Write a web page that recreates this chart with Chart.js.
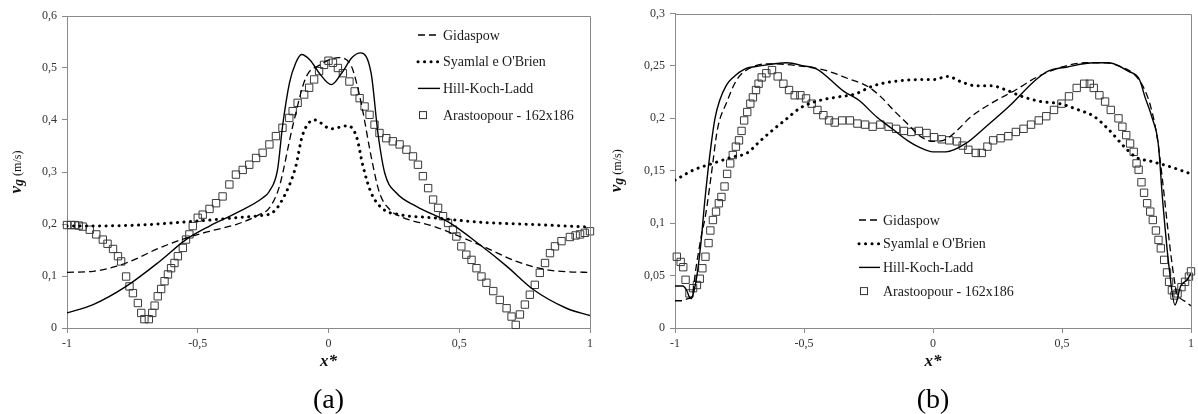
<!DOCTYPE html>
<html>
<head>
<meta charset="utf-8">
<title>vg profiles</title>
<script src="https://cdn.jsdelivr.net/npm/chart.js@4.4.1/dist/chart.umd.min.js"></script>
<style>
  html, body { margin: 0; padding: 0; background: #fff; }
  .wrap { position: relative; width: 1198px; height: 414px; }
  canvas { position: absolute; top: 0; }
  #chartA { left: 0; }
  #chartB { left: 600px; }
</style>
</head>
<body>
<div class="wrap">
  <canvas id="chartA" width="600" height="414"></canvas>
  <canvas id="chartB" width="598" height="414"></canvas>
</div>
<script>
const seriesNames = ['Gidaspow', "Syamlal e O'Brien", 'Hill-Koch-Ladd', 'Arastoopour - 162x186'];
const xTicks = [-1, -0.5, 0, 0.5, 1];
const yTicksA = [0, 0.1, 0.2, 0.3, 0.4, 0.5, 0.6];
const yTicksB = [0, 0.05, 0.1, 0.15, 0.2, 0.25, 0.3];

// ---- panel (a) ----
const gidaXA = [-1, -0.9, -0.774, -0.646, -0.545, -0.455, -0.354, -0.265, -0.226, -0.188, -0.137, -0.087, -0.036, 0.04, 0.088, 0.107, 0.13, 0.163, 0.195, 0.234, 0.272, 0.4, 0.502, 0.604, 0.719, 0.834, 0.92, 1];
const gidaYA = [0.107, 0.109, 0.125, 0.154, 0.173, 0.186, 0.199, 0.218, 0.231, 0.272, 0.388, 0.481, 0.505, 0.52, 0.503, 0.472, 0.42, 0.33, 0.26, 0.228, 0.215, 0.196, 0.176, 0.154, 0.128, 0.112, 0.108, 0.107];

const syamXA = [-1, -0.774, -0.519, -0.354, -0.265, -0.214, -0.163, -0.125, -0.1, -0.054, 0.01, 0.073, 0.107, 0.132, 0.163, 0.208, 0.272, 0.4, 0.591, 0.783, 1];
const syamYA = [0.196, 0.197, 0.205, 0.212, 0.216, 0.222, 0.26, 0.311, 0.37, 0.4, 0.383, 0.389, 0.368, 0.311, 0.26, 0.229, 0.218, 0.212, 0.203, 0.199, 0.194];

const hillXA = [-1, -0.9, -0.774, -0.646, -0.545, -0.455, -0.354, -0.252, -0.226, -0.195, -0.176, -0.149, -0.125, -0.103, -0.07, -0.035, 0.011, 0.05, 0.09, 0.123, 0.163, 0.189, 0.215, 0.259, 0.336, 0.464, 0.579, 0.681, 0.783, 0.91, 1];
const hillYA = [0.029, 0.045, 0.08, 0.128, 0.17, 0.196, 0.221, 0.25, 0.263, 0.304, 0.387, 0.472, 0.51, 0.526, 0.515, 0.49, 0.468, 0.49, 0.52, 0.529, 0.49, 0.375, 0.298, 0.26, 0.234, 0.202, 0.16, 0.119, 0.074, 0.038, 0.024];

const araXA = [-1, -0.985, -0.97, -0.955, -0.94, -0.913, -0.888, -0.863, -0.845, -0.824, -0.805, -0.793, -0.774, -0.761, -0.748, -0.729, -0.716, -0.704, -0.687, -0.674, -0.665, -0.653, -0.64, -0.627, -0.614, -0.602, -0.589, -0.576, -0.557, -0.545, -0.532, -0.519, -0.5, -0.481, -0.455, -0.43, -0.405, -0.379, -0.354, -0.328, -0.303, -0.277, -0.252, -0.226, -0.201, -0.176, -0.15, -0.137, -0.118, -0.093, -0.074, -0.055, -0.036, -0.017, 0, 0.017, 0.036, 0.055, 0.08, 0.1, 0.119, 0.138, 0.157, 0.176, 0.195, 0.221, 0.246, 0.272, 0.298, 0.323, 0.342, 0.361, 0.381, 0.4, 0.419, 0.438, 0.457, 0.476, 0.489, 0.508, 0.527, 0.547, 0.566, 0.585, 0.604, 0.63, 0.655, 0.681, 0.7, 0.716, 0.732, 0.751, 0.77, 0.789, 0.808, 0.828, 0.847, 0.866, 0.891, 0.923, 0.945, 0.962, 0.98, 1];
const araYA = [0.198, 0.198, 0.198, 0.197, 0.195, 0.189, 0.18, 0.17, 0.162, 0.152, 0.138, 0.128, 0.099, 0.08, 0.067, 0.048, 0.029, 0.017, 0.017, 0.029, 0.043, 0.061, 0.075, 0.09, 0.103, 0.115, 0.125, 0.138, 0.154, 0.17, 0.18, 0.196, 0.212, 0.218, 0.229, 0.24, 0.253, 0.276, 0.295, 0.304, 0.314, 0.327, 0.337, 0.353, 0.369, 0.385, 0.404, 0.417, 0.433, 0.449, 0.462, 0.478, 0.494, 0.506, 0.514, 0.51, 0.5, 0.49, 0.474, 0.455, 0.442, 0.426, 0.41, 0.391, 0.375, 0.365, 0.359, 0.353, 0.343, 0.33, 0.314, 0.292, 0.269, 0.247, 0.231, 0.215, 0.202, 0.189, 0.176, 0.157, 0.141, 0.131, 0.115, 0.099, 0.087, 0.071, 0.054, 0.038, 0.022, 0.006, 0.026, 0.045, 0.064, 0.083, 0.106, 0.125, 0.144, 0.157, 0.167, 0.175, 0.178, 0.18, 0.183, 0.186];

// ---- panel (b) ----
const gidaXB = [-1, -0.97, -0.95, -0.934, -0.92, -0.9, -0.88, -0.86, -0.835, -0.8, -0.76, -0.7, -0.63, -0.52, -0.42, -0.33, -0.25, -0.2, -0.15, -0.1, -0.05, 0, 0.05, 0.1, 0.14, 0.23, 0.32, 0.4, 0.5, 0.59, 0.67, 0.73, 0.775, 0.815, 0.845, 0.87, 0.89, 0.91, 0.93, 0.945, 0.96, 0.98, 1];
const gidaYB = [0.026, 0.026, 0.028, 0.03, 0.055, 0.085, 0.11, 0.145, 0.19, 0.215, 0.237, 0.249, 0.252, 0.25, 0.246, 0.238, 0.23, 0.22, 0.207, 0.195, 0.183, 0.178, 0.18, 0.19, 0.2, 0.215, 0.227, 0.239, 0.249, 0.253, 0.253, 0.249, 0.243, 0.23, 0.21, 0.18, 0.14, 0.095, 0.055, 0.033, 0.028, 0.025, 0.021];

const syamXB = [-1, -0.926, -0.853, -0.779, -0.72, -0.676, -0.63, -0.57, -0.514, -0.455, -0.38, -0.305, -0.231, -0.158, -0.04, 0.004, 0.056, 0.108, 0.167, 0.225, 0.284, 0.343, 0.417, 0.49, 0.564, 0.623, 0.682, 0.741, 0.786, 0.845, 0.917, 1];
const syamYB = [0.141, 0.151, 0.157, 0.163, 0.167, 0.177, 0.187, 0.199, 0.21, 0.216, 0.22, 0.223, 0.231, 0.235, 0.237, 0.237, 0.24, 0.235, 0.231, 0.231, 0.227, 0.221, 0.216, 0.214, 0.208, 0.202, 0.189, 0.173, 0.163, 0.159, 0.154, 0.147];

const hillXB = [-1, -0.97, -0.955, -0.945, -0.938, -0.93, -0.915, -0.9, -0.885, -0.866, -0.845, -0.827, -0.8, -0.775, -0.73, -0.671, -0.567, -0.5, -0.45, -0.347, -0.286, -0.217, -0.158, -0.1, -0.05, 0, 0.05, 0.127, 0.205, 0.293, 0.4, 0.446, 0.52, 0.623, 0.682, 0.756, 0.8, 0.822, 0.85, 0.873, 0.89, 0.915, 0.938, 0.96, 0.985, 1];
const hillYB = [0.04, 0.04, 0.036, 0.03, 0.028, 0.032, 0.05, 0.08, 0.12, 0.163, 0.2, 0.217, 0.232, 0.239, 0.247, 0.25, 0.253, 0.25, 0.247, 0.226, 0.217, 0.201, 0.19, 0.179, 0.172, 0.168, 0.168, 0.176, 0.192, 0.211, 0.237, 0.245, 0.249, 0.253, 0.253, 0.245, 0.237, 0.22, 0.2, 0.176, 0.122, 0.058, 0.022, 0.04, 0.046, 0.052];

const araXB = [-0.993, -0.978, -0.968, -0.959, -0.944, -0.93, -0.915, -0.904, -0.894, -0.882, -0.87, -0.863, -0.853, -0.841, -0.83, -0.82, -0.808, -0.798, -0.786, -0.776, -0.764, -0.752, -0.742, -0.732, -0.72, -0.708, -0.698, -0.686, -0.676, -0.664, -0.646, -0.624, -0.602, -0.58, -0.558, -0.536, -0.514, -0.492, -0.47, -0.448, -0.425, -0.403, -0.381, -0.352, -0.322, -0.293, -0.263, -0.234, -0.204, -0.172, -0.143, -0.113, -0.084, -0.055, -0.025, 0.004, 0.034, 0.063, 0.093, 0.115, 0.137, 0.166, 0.189, 0.211, 0.233, 0.262, 0.292, 0.321, 0.351, 0.38, 0.41, 0.439, 0.469, 0.498, 0.527, 0.557, 0.586, 0.608, 0.623, 0.645, 0.667, 0.689, 0.719, 0.734, 0.749, 0.764, 0.778, 0.789, 0.797, 0.808, 0.818, 0.83, 0.842, 0.852, 0.864, 0.874, 0.883, 0.896, 0.907, 0.915, 0.926, 0.936, 0.948, 0.963, 0.977, 0.992, 1];
const araYB = [0.068, 0.063, 0.058, 0.046, 0.033, 0.038, 0.041, 0.047, 0.057, 0.068, 0.081, 0.093, 0.103, 0.111, 0.119, 0.125, 0.135, 0.147, 0.157, 0.165, 0.173, 0.179, 0.188, 0.198, 0.206, 0.214, 0.22, 0.227, 0.233, 0.239, 0.243, 0.246, 0.24, 0.233, 0.227, 0.222, 0.222, 0.219, 0.214, 0.208, 0.203, 0.198, 0.196, 0.198, 0.198, 0.195, 0.194, 0.192, 0.194, 0.192, 0.19, 0.188, 0.187, 0.188, 0.186, 0.182, 0.18, 0.179, 0.178, 0.174, 0.17, 0.167, 0.167, 0.173, 0.179, 0.181, 0.183, 0.187, 0.19, 0.194, 0.198, 0.202, 0.208, 0.214, 0.221, 0.229, 0.233, 0.233, 0.229, 0.222, 0.216, 0.208, 0.2, 0.192, 0.184, 0.176, 0.168, 0.157, 0.151, 0.139, 0.129, 0.119, 0.111, 0.103, 0.093, 0.084, 0.076, 0.065, 0.053, 0.044, 0.036, 0.031, 0.033, 0.039, 0.044, 0.049, 0.054];

const SERIF = "'Liberation Serif', 'Times New Roman', serif";

function pts(xs, ys) {
  return xs.map((x, i) => ({ x: x, y: ys[i] }));
}

function fmt(v) {
  return String(Math.round(v * 100) / 100).replace('.', ',');
}

// frame, axis titles, legend and panel letter
const decor = {
  id: 'decor',
  afterDraw(chart, args, o) {
    const ctx = chart.ctx;
    const a = chart.chartArea;
    ctx.save();
    // top and right edges of the plot box
    ctx.strokeStyle = '#8a8a8a';
    ctx.lineWidth = 1;
    ctx.beginPath();
    ctx.moveTo(Math.round(a.left) + 0.5, Math.round(a.top) + 0.5);
    ctx.lineTo(Math.round(a.right) + 0.5, Math.round(a.top) + 0.5);
    ctx.lineTo(Math.round(a.right) + 0.5, Math.round(a.bottom) + 0.5);
    ctx.stroke();

    // legend
    ctx.fillStyle = '#1a1a1a';
    ctx.textBaseline = 'middle';
    ctx.font = '14px ' + SERIF;
    chart.data.datasets.forEach((ds, i) => {
      const y = o.legY + i * o.legDy;
      if (ds.showLine === false) {
        ctx.setLineDash([]);
        ctx.strokeStyle = '#333';
        ctx.lineWidth = 1;
        ctx.strokeRect(o.legX + 1.5, y - 3.5, 7, 7);
      } else {
        ctx.strokeStyle = '#000';
        ctx.lineWidth = ds.borderWidth;
        ctx.lineCap = ds.borderCapStyle || 'butt';
        ctx.setLineDash(ds.borderDash || []);
        ctx.beginPath();
        ctx.moveTo(o.legX, y);
        ctx.lineTo(o.legX + o.legW, y);
        ctx.stroke();
      }
      ctx.setLineDash([]);
      ctx.lineCap = 'butt';
      ctx.fillText(ds.label, o.legX + o.legW + 3, y + 1);
    });

    // y title: v_g (m/s)
    ctx.save();
    ctx.translate(17, (a.top + a.bottom) / 2);
    ctx.rotate(-Math.PI / 2);
    ctx.textBaseline = 'alphabetic';
    ctx.fillStyle = '#111';
    const f1 = 'italic bold 17px ' + SERIF;
    const f2 = 'italic bold 14px ' + SERIF;
    const f3 = '12px ' + SERIF;
    ctx.font = f1; const w1 = ctx.measureText('v').width;
    ctx.font = f2; const w2 = ctx.measureText('g').width;
    ctx.font = f3; const w3 = ctx.measureText(' (m/s)').width;
    let x0 = -(w1 + w2 + w3) / 2;
    ctx.font = f1; ctx.fillText('v', x0, 4);
    ctx.font = f2; ctx.fillText('g', x0 + w1, 6);
    ctx.font = f3; ctx.fillText(' (m/s)', x0 + w1 + w2, 4);
    ctx.restore();

    // x title
    ctx.textAlign = 'center';
    ctx.textBaseline = 'middle';
    ctx.fillStyle = '#111';
    ctx.font = 'italic bold 17px ' + SERIF;
    const cx = (a.left + a.right) / 2;
    ctx.fillText('x*', cx, 362);

    // panel letter
    ctx.font = '28px ' + SERIF;
    ctx.fillStyle = '#000';
    ctx.fillText(o.letter, cx, 401);
    ctx.restore();
  }
};

function buildChart(id, p) {
  return new Chart(document.getElementById(id), {
    type: 'line',
    data: {
      datasets: [
        {
          label: seriesNames[0], data: pts(p.gx, p.gy),
          borderColor: '#000', borderWidth: 1.3, borderDash: [7, 4],
          pointRadius: 0, cubicInterpolationMode: 'monotone'
        },
        {
          label: seriesNames[1], data: pts(p.sx, p.sy),
          borderColor: '#000', borderWidth: 3, borderDash: [0.1, 6.4], borderCapStyle: 'round',
          pointRadius: 0, cubicInterpolationMode: 'monotone'
        },
        {
          label: seriesNames[2], data: pts(p.hx, p.hy),
          borderColor: '#000', borderWidth: 1.4,
          pointRadius: 0, cubicInterpolationMode: 'monotone'
        },
        {
          label: seriesNames[3], data: pts(p.ax, p.ay),
          showLine: false, clip: false,
          pointStyle: 'rect', pointRadius: 5.2,
          borderColor: '#3a3a3a', borderWidth: 1, backgroundColor: 'rgba(0,0,0,0)'
        }
      ]
    },
    options: {
      responsive: false,
      animation: false,
      events: [],
      layout: { padding: { left: 0, top: p.top, right: p.right, bottom: 0 } },
      plugins: {
        legend: { display: false },
        tooltip: { enabled: false },
        decor: { legX: p.legX, legY: p.legY, legDy: p.legDy, legW: p.legW, letter: p.letter }
      },
      scales: {
        x: {
          type: 'linear', min: -1, max: 1,
          afterBuildTicks: s => { s.ticks = xTicks.map(v => ({ value: v })); },
          afterFit: s => { s.height = 414 - 328; },
          ticks: { callback: fmt, color: '#333', padding: 4, maxRotation: 0,
                   font: { family: SERIF, size: 12 } },
          grid: { drawOnChartArea: false, tickLength: 5, color: '#8a8a8a' },
          border: { color: '#8a8a8a' }
        },
        y: {
          type: 'linear', min: 0, max: p.ymax,
          afterBuildTicks: s => { s.ticks = p.yt.map(v => ({ value: v })); },
          afterFit: s => { s.width = p.left; },
          ticks: { callback: fmt, color: '#333', padding: 5,
                   font: { family: SERIF, size: 12 } },
          grid: { drawOnChartArea: false, tickLength: 5, color: '#8a8a8a' },
          border: { color: '#8a8a8a' }
        }
      }
    },
    plugins: [decor]
  });
}

buildChart('chartA', {
  gx: gidaXA, gy: gidaYA, sx: syamXA, sy: syamYA, hx: hillXA, hy: hillYA, ax: araXA, ay: araYA,
  ymax: 0.6, yt: yTicksA, left: 67, top: 16, right: 10,
  legX: 418, legY: 35, legDy: 26.7, legW: 22, letter: '(a)'
});

buildChart('chartB', {
  gx: gidaXB, gy: gidaYB, sx: syamXB, sy: syamYB, hx: hillXB, hy: hillYB, ax: araXB, ay: araYB,
  ymax: 0.3, yt: yTicksB, left: 75, top: 13.5, right: 5,
  legX: 259, legY: 220, legDy: 23.7, legW: 21, letter: '(b)'
});
</script>
</body>
</html>
